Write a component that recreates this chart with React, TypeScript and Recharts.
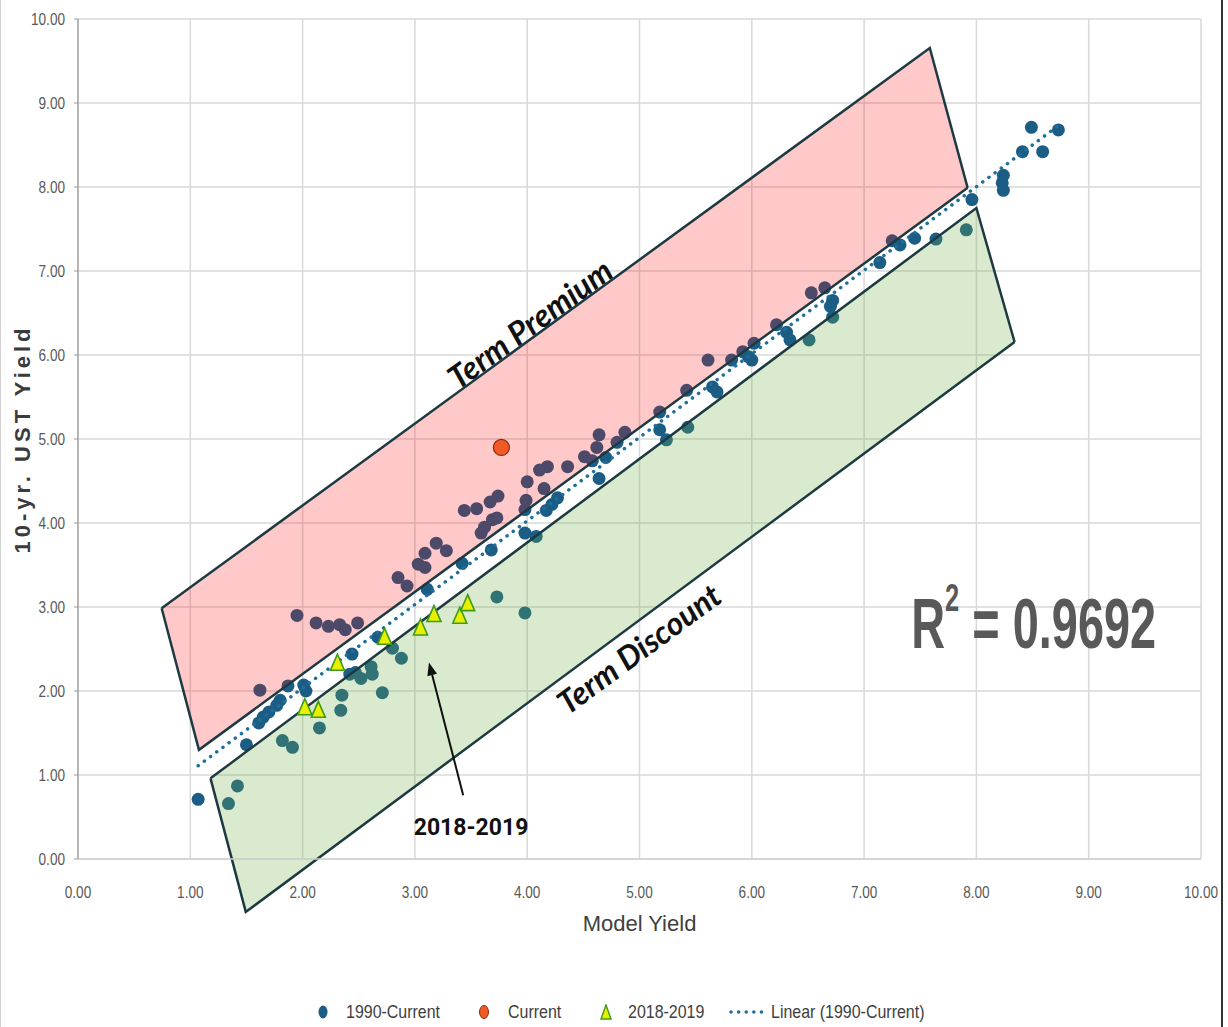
import React from "react"
import {
  ComposedChart,
  Scatter,
  Area,
  Line,
  XAxis,
  YAxis,
  CartesianGrid,
  ReferenceDot,
  ReferenceLine,
  Legend,
} from "recharts"

const axisTicks = [0, 1, 2, 3, 4, 5, 6, 7, 8, 9, 10]

// [model yield, 10-yr UST yield]
const history1990: [number, number][] = [
  [1.07, 0.71], [1.34, 0.66], [1.42, 0.87], [1.5, 1.36],
  [1.62, 2.01], [1.61, 1.62], [1.65, 1.69], [1.7, 1.75], [1.77, 1.83], [1.8, 1.89], [1.87, 2.06], [1.82, 1.41], [1.91, 1.33], [1.95, 2.9],
  [2.01, 2.07], [2.03, 2.0], [2.15, 1.56], [2.12, 2.81], [2.23, 2.77], [2.33, 2.79], [2.38, 2.73], [2.49, 2.81], [2.35, 1.95], [2.34, 1.77],
  [2.44, 2.44], [2.42, 2.2], [2.47, 2.22], [2.52, 2.15], [2.61, 2.29], [2.62, 2.2], [2.71, 1.98], [2.67, 2.64], [2.8, 2.51], [2.88, 2.39],
  [2.85, 3.35], [2.93, 3.25], [3.03, 3.51], [3.09, 3.64], [3.09, 3.47], [3.11, 3.21], [3.19, 3.76], [3.28, 3.67], [3.42, 3.52],
  [3.44, 4.15], [3.55, 4.17], [3.67, 4.25], [3.74, 4.32], [3.62, 3.95], [3.69, 4.04], [3.73, 4.06], [3.59, 3.88], [3.68, 3.68], [3.73, 3.12], [3.98, 2.93],
  [4.0, 4.49], [3.99, 4.27], [3.98, 4.16], [4.11, 4.63], [4.18, 4.67], [4.15, 4.41], [3.98, 3.88], [4.08, 3.84], [4.17, 4.15], [4.22, 4.22], [4.27, 4.3], [4.36, 4.67],
  [4.51, 4.79], [4.58, 4.74], [4.64, 5.05], [4.62, 4.9], [4.64, 4.53], [4.7, 4.78], [4.8, 4.96], [4.87, 5.08],
  [5.18, 5.32], [5.18, 5.11], [5.24, 4.99], [5.42, 5.58], [5.43, 5.14], [5.61, 5.94], [5.65, 5.62], [5.69, 5.56], [5.82, 5.94], [5.92, 6.04], [6.02, 6.14], [6.0, 5.94], [5.97, 5.98],
  [6.22, 6.36], [6.31, 6.27], [6.34, 6.18], [6.51, 6.18], [6.53, 6.74], [6.65, 6.8], [6.72, 6.65], [6.72, 6.45], [6.7, 6.58],
  [7.14, 7.1], [7.25, 7.36], [7.32, 7.31], [7.45, 7.39], [7.64, 7.38], [7.91, 7.49], [7.96, 7.85],
  [8.24, 8.14], [8.24, 7.96], [8.23, 8.05], [8.41, 8.42], [8.49, 8.71], [8.59, 8.42], [8.73, 8.68],
]

const currentYield: [number, number][] = [[3.77, 4.9]]

const years2018_2019: [number, number][] = [
  [2.02, 1.8], [2.14, 1.77], [2.31, 2.33], [2.73, 2.64],
  [3.05, 2.75], [3.17, 2.91], [3.4, 2.89], [3.47, 3.04],
]

const trendEnds: [number, number][] = [[1.07, 1.11], [8.72, 8.72]]

// corners of the two shaded boxes, in chart units
const premiumBox: [number, number][] = [[0.745, 2.985], [7.585, 9.655], [7.922, 7.99], [1.077, 1.3]]
const discountBox: [number, number][] = [[1.18, 0.96], [8.0, 7.75], [8.34, 6.155], [1.494, -0.63]]

const toRows = (pts: [number, number][]) => pts.map(([x, y]) => ({ x, y }))

// turn a convex polygon into [low, high] rows for a range Area
function boxRows(poly: [number, number][]) {
  const xs = Array.from(new Set(poly.map((p) => p[0]))).sort((a, b) => a - b)
  return xs.map((x) => {
    const ys: number[] = []
    poly.forEach((a, i) => {
      const b = poly[(i + 1) % poly.length]
      const lo = Math.min(a[0], b[0])
      const hi = Math.max(a[0], b[0])
      if (hi === lo || x < lo - 1e-9 || x > hi + 1e-9) return
      ys.push(a[1] + ((b[1] - a[1]) * (x - a[0])) / (b[0] - a[0]))
    })
    return { x, y: [Math.min(...ys), Math.max(...ys)] }
  })
}

const BLUE = "#1C5D86"
const EDGE = "#1D3A42"
const SANS = "'Liberation Sans', Arial, sans-serif"

const HistDot = (p: any) => <circle cx={p.cx} cy={p.cy} r={6.5} fill={BLUE} />
const CurrentDot = (p: any) => (
  <circle cx={p.cx} cy={p.cy} r={8} fill="#F15A24" stroke="#8A2C0C" strokeWidth={1.2} />
)
const Tri = (p: any) => (
  <polygon
    points={`${p.cx},${p.cy - 9} ${p.cx + 7},${p.cy + 7} ${p.cx - 7},${p.cy + 7}`}
    fill="#E8F000"
    stroke="#3E9A1A"
    strokeWidth={1.6}
  />
)

// the original uses a condensed face, so squeeze the text horizontally
const narrowTick = (anchor: "end" | "middle", dy: string) => (p: any) => (
  <g transform={`translate(${p.x},${p.y}) scale(0.8,1)`}>
    <text textAnchor={anchor} dy={dy} fontSize={17} fill="#595959" fontFamily={SANS}>
      {Number(p.payload.value).toFixed(2)}
    </text>
  </g>
)

const tiltedText = (text: string, angle: number, size: number) => (p: any) => (
  <text
    x={p.cx}
    y={p.cy}
    transform={`rotate(${angle} ${p.cx} ${p.cy})`}
    textAnchor="middle"
    dominantBaseline="central"
    fontFamily="Lato, 'Open Sans', sans-serif"
    fontStyle="italic"
    fontWeight={700}
    fontSize={size}
    fill="#111"
  >
    {text}
  </text>
)

const YearsLabel = (p: any) => (
  <text x={p.cx} y={p.cy} textAnchor="middle" dominantBaseline="central" fontFamily="Roboto, sans-serif" fontWeight={700} fontSize={23} fill="#111">
    2018-2019
  </text>
)

const RSquared = (p: any) => (
  <g transform={`translate(${p.cx},${p.cy}) scale(0.67,1)`}>
    <text textAnchor="middle" dominantBaseline="central" fontFamily={SANS} fontWeight={700} fontSize={70} fill="#595959">
      R
      <tspan dy={-26} fontSize={38}>2</tspan>
      <tspan dy={26}> = 0.9692</tspan>
    </text>
  </g>
)

const Arrow = (p: any) => {
  const { x1, y1, x2, y2 } = p
  const ang = Math.atan2(y2 - y1, x2 - x1)
  const len = 13
  const w = 5
  const bx = x2 - len * Math.cos(ang)
  const by = y2 - len * Math.sin(ang)
  const nx = -Math.sin(ang) * w
  const ny = Math.cos(ang) * w
  return (
    <g>
      <line x1={x1} y1={y1} x2={bx} y2={by} stroke="#111" strokeWidth={2} />
      <polygon points={`${x2},${y2} ${bx + nx},${by + ny} ${bx - nx},${by - ny}`} fill="#111" />
    </g>
  )
}

function LegendRow() {
  const label = (text: string, left: number) => (
    <span
      style={{
        position: "absolute",
        left,
        top: 0,
        lineHeight: "24px",
        transform: "scaleX(0.84)",
        transformOrigin: "0 50%",
        whiteSpace: "nowrap",
      }}
    >
      {text}
    </span>
  )
  const mark = (left: number, w: number, child: React.ReactNode) => (
    <svg style={{ position: "absolute", left, top: 4 }} width={w} height={16}>
      {child}
    </svg>
  )
  return (
    <div style={{ position: "relative", height: 24, width: 1228, fontFamily: SANS, fontSize: 19, color: "#404040" }}>
      {mark(317, 12, <ellipse cx={6} cy={8} rx={4.5} ry={6.5} fill={BLUE} />)}
      {label("1990-Current", 346)}
      {mark(478, 12, <ellipse cx={6} cy={8} rx={4.5} ry={6.5} fill="#F15A24" stroke="#8A2C0C" />)}
      {label("Current", 508)}
      {mark(599, 14, <polygon points="7,1 12,15 2,15" fill="#E8F000" stroke="#3E9A1A" strokeWidth={1.4} />)}
      {label("2018-2019", 628)}
      {mark(728, 40, <line x1={3} y1={8} x2={37} y2={8} stroke="#1E6F9A" strokeWidth={3.5} strokeDasharray="0.1 7.5" strokeLinecap="round" />)}
      {label("Linear (1990-Current)", 771)}
    </div>
  )
}

export default function App() {
  return (
    <div style={{ position: "absolute", left: 0, top: 0, width: 1228, height: 1027, background: "#fff" }}>
      <style>{".box [clip-path] { clip-path: none !important; }"}</style>
      <div style={{ position: "absolute", left: 0, top: 0, width: 1, height: 1027, background: "#d0d0d0" }} />
      <div style={{ position: "absolute", left: 1221, top: 0, width: 2, height: 1027, background: "#333" }} />
      <ComposedChart width={1228} height={1027} margin={{ top: 19, right: 27, bottom: 0, left: 0 }}>
        <CartesianGrid stroke="#D9D9D9" strokeWidth={1.5} />
        <XAxis
          type="number"
          dataKey="x"
          domain={[0, 10]}
          ticks={axisTicks}
          allowDataOverflow
          tick={narrowTick("middle", "0.71em")}
          tickLine={false}
          tickMargin={21}
          axisLine={{ stroke: "#D0D0D0", strokeWidth: 1.5 }}
          height={144}
          label={{
            value: "Model Yield",
            position: "insideTop",
            offset: 56,
            style: { fontSize: 22, fill: "#404040", fontFamily: SANS },
          }}
        />
        <YAxis
          type="number"
          dataKey="y"
          domain={[0, 10]}
          ticks={axisTicks}
          allowDataOverflow
          width={78}
          tick={narrowTick("end", "0.355em")}
          tickSize={4}
          tickMargin={9}
          tickLine={{ stroke: "#9A9A9A" }}
          axisLine={{ stroke: "#9A9A9A", strokeWidth: 1.2 }}
          label={{
            value: "10-yr. UST Yield",
            angle: -90,
            position: "insideLeft",
            offset: 22,
            style: {
              textAnchor: "middle",
              fontSize: 22,
              fontWeight: 700,
              letterSpacing: 4,
              fill: "#3B3B3B",
              fontFamily: SANS,
            },
          }}
        />
        <Scatter name="1990-Current" data={toRows(history1990)} fill={BLUE} shape={HistDot} isAnimationActive={false} zIndex={100} />
        <Line
          name="Linear (1990-Current)"
          data={toRows(trendEnds)}
          dataKey="y"
          type="linear"
          stroke="#1E6F9A"
          strokeWidth={3.5}
          strokeDasharray="0.1 7.6"
          strokeLinecap="round"
          dot={false}
          activeDot={false}
          isAnimationActive={false}
          zIndex={150}
        />
        <Area
          className="box"
          data={boxRows(premiumBox)}
          dataKey="y"
          type="linear"
          fill="#FF0000"
          fillOpacity={0.21}
          stroke={EDGE}
          strokeWidth={2.5}
          dot={false}
          activeDot={false}
          isAnimationActive={false}
          zIndex={200}
        />
        <Area
          className="box"
          data={boxRows(discountBox)}
          dataKey="y"
          type="linear"
          fill="#70AD47"
          fillOpacity={0.26}
          stroke={EDGE}
          strokeWidth={2.5}
          dot={false}
          activeDot={false}
          isAnimationActive={false}
          zIndex={200}
        />
        <Scatter name="2018-2019" data={toRows(years2018_2019)} fill="#E8F000" shape={Tri} isAnimationActive={false} zIndex={300} />
        <Scatter name="Current" data={toRows(currentYield)} fill="#F15A24" shape={CurrentDot} isAnimationActive={false} zIndex={300} />
        <ReferenceDot x={4.02} y={6.38} r={0} ifOverflow="visible" shape={tiltedText("Term Premium", -36.1, 32)} />
        <ReferenceDot x={4.99} y={2.51} r={0} ifOverflow="visible" shape={tiltedText("Term Discount", -36.4, 32)} />
        <ReferenceDot x={3.5} y={0.37} r={0} ifOverflow="visible" shape={YearsLabel} />
        <ReferenceDot x={8.51} y={2.8} r={0} ifOverflow="visible" shape={RSquared} />
        <ReferenceLine
          segment={[{ x: 3.43, y: 0.76 }, { x: 3.125, y: 2.34 }]}
          ifOverflow="visible"
          shape={Arrow}
        />
        <Legend verticalAlign="bottom" content={() => <LegendRow />} wrapperStyle={{ left: 0, width: 1228, top: 1000 }} />
      </ComposedChart>
    </div>
  )
}
